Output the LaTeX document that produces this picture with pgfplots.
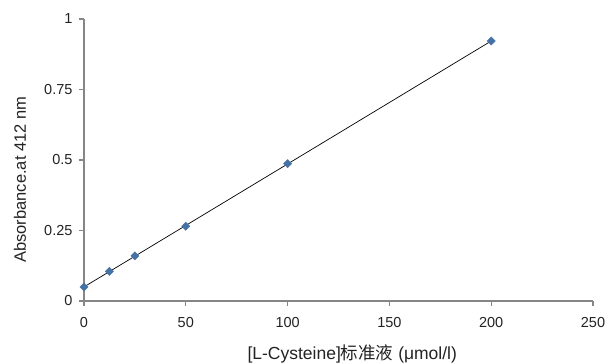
\documentclass[border=0pt]{standalone}
\usepackage{fontspec}
\setmainfont{Liberation Sans}
\newfontfamily\cjk{Noto Sans CJK SC}
\usepackage{pgfplots}
\pgfplotsset{compat=1.18}
\definecolor{axgray}{RGB}{134,134,134}
\definecolor{mk}{RGB}{68,114,164}
\definecolor{txt}{RGB}{35,35,35}
\begin{document}
\begin{tikzpicture}
\path[use as bounding box] (-84pt,-62pt) rectangle (531pt,301pt);
\begin{axis}[
  scale only axis, width=509pt, height=282pt,
  xmin=0, xmax=250, ymin=0, ymax=1,
  axis lines*=left,
  axis line style={axgray, line width=1.2pt},
  tick style={axgray, line width=1.2pt},
  major tick length=5pt, tick align=outside,
  xtick={0,50,100,150,200,250}, xticklabels={0,50,100,150,200,250},
  ytick={0,0.25,0.5,0.75,1}, yticklabels={0,0.25,0.5,0.75,1},
  tick label style={font=\fontsize{14.5}{16}\selectfont, text=txt},
  xticklabel style={yshift=-8pt},
  yticklabel style={xshift=-3pt},
  clip=false,
]
\addplot[black, line width=0.7pt] coordinates {(0,0.0499) (200,0.9219)};
\addplot[only marks, mark=square*, mark size=2.9pt, mark options={fill=mk, draw=mk, rotate=45}] coordinates {
  (0,0.050) (12.5,0.105) (25,0.160) (50,0.265) (100,0.487) (200,0.922)
};
\node[rotate=90, anchor=center, text=txt, font=\fontsize{16.5}{19}\selectfont] at ([xshift=-64pt]rel axis cs:0,0.43) {Absorbance.at 412 nm};
\node[anchor=base, text=txt, font=\fontsize{17.5}{19}\selectfont] at ([yshift=-59pt]rel axis cs:0.527,0) {[L-Cysteine]{\cjk 标准液} (μmol/l)};
\end{axis}
\end{tikzpicture}
\end{document}
